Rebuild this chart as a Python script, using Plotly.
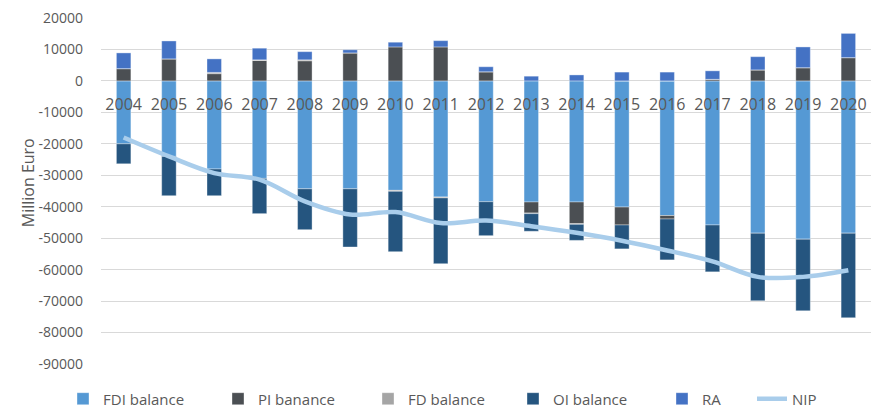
import plotly.graph_objects as go

years = [str(y) for y in range(2004, 2021)]
fdi = [-20000, -24000, -28000, -31000, -34300, -34300, -34800, -36900, -38400,
       -38500, -38500, -40100, -42800, -45800, -48400, -50300, -48400]
pi = [3900, 7000, 2300, 6500, 6400, 8900, 10800, 10800, 2900,
      -3500, -6900, -5700, -1100, 500, 3500, 4200, 7400]
fd = [0, 0, 400, 200, 300, 0, -300, -300, 0,
      -200, -200, 0, 0, 0, 0, 0, 0]
oi = [-6350, -12500, -8500, -11200, -13000, -18500, -19200, -20900, -10800,
      -5600, -5100, -7600, -13000, -14900, -21500, -22800, -26900]
ra = [5000, 5700, 4300, 3700, 2600, 1000, 1500, 2000, 1600,
      1500, 1900, 2800, 2800, 2700, 4200, 6600, 7700]
nip = [-18000, -24000, -29300, -31400, -38300, -42500, -41700, -45200, -44400,
       -46200, -48300, -50800, -53900, -57400, -62300, -62300, -60200]
ytick_vals = [20000, 10000, 0, -10000, -20000, -30000, -40000, -50000,
              -60000, -70000, -80000, -90000]
ytick_text = ["20000", "10000", "0", "-10000", "-20000", "-30000", "-40000",
              "-50000", "-60000", "-70000", "-80000", "-90000"]

W, H = 871, 411
L, R, T, B = 101, 0, 17.5, 47
pw = W - L - R
ph = H - T - B

series = [
    ("FDI balance", fdi, "#5599D4", "legend", 103),
    ("PI banance", pi, "#4B4F53", "legend2", 258),
    ("FD balance", fd, "#A5A5A5", "legend3", 408),
    ("OI balance", oi, "#25557F", "legend4", 553),
    ("RA", ra, "#4472C4", "legend5", 702),
]

fig = go.Figure()
legend_layout = {}
text_font = "Open Sans, sans-serif"
leg_font = dict(family=text_font, size=15, color="#595959")
leg_y = (364 - 399) / ph
for name, vals, col, leg, tx in series:
    fig.add_trace(go.Bar(
        x=years, y=vals, name=name,
        marker=dict(color=col, line=dict(color="rgba(255,255,255,0.6)", width=0.6)),
        legend=leg, width=0.32,
    ))
    legend_layout[leg] = dict(
        x=(tx - 40 - L) / pw, xanchor="left", y=leg_y, yanchor="middle",
        orientation="h", font=leg_font, bgcolor="rgba(0,0,0,0)",
    )

fig.add_trace(go.Scatter(
    x=years, y=nip, name="NIP", mode="lines",
    line=dict(color="#A9CDEB", width=4.5, shape="spline"),
    legend="legend6",
))
legend_layout["legend6"] = dict(
    x=(792 - 40 - L) / pw, xanchor="left", y=leg_y, yanchor="middle",
    orientation="h", font=leg_font, bgcolor="rgba(0,0,0,0)",
)

fig.update_layout(
    width=W, height=H,
    margin=dict(l=L, r=R, t=T, b=B, autoexpand=False),
    barmode="relative",
    plot_bgcolor="white", paper_bgcolor="white",
    font=dict(family=text_font, color="#595959"),
    showlegend=True,
    **legend_layout,
)
fig.update_yaxes(
    range=[-90000, 20000], tickmode="array", tickvals=ytick_vals, ticktext=ytick_text,
    showgrid=True, gridcolor="#D9D9D9", gridwidth=1,
    zeroline=True, zerolinecolor="#D9D9D9", zerolinewidth=1,
    showline=False, ticks="",
    tickfont=dict(family=text_font, size=14, color="#595959"),
    ticklabelstandoff=17, automargin=False,
)
fig.update_xaxes(
    type="category", anchor="free", position=90000 / 110000,
    showgrid=False, showline=False, zeroline=False, ticks="",
    tickfont=dict(family=text_font, size=16, color="#595959"),
    ticklabelstandoff=12, automargin=False,
)
fig.add_annotation(
    text="Million Euro", textangle=-90, xref="paper", yref="paper",
    x=(15 - L) / pw, y=(364 - 183) / ph, showarrow=False,
    font=dict(family=text_font, size=16, color="#595959"),
)

fig.write_html("out.html")
